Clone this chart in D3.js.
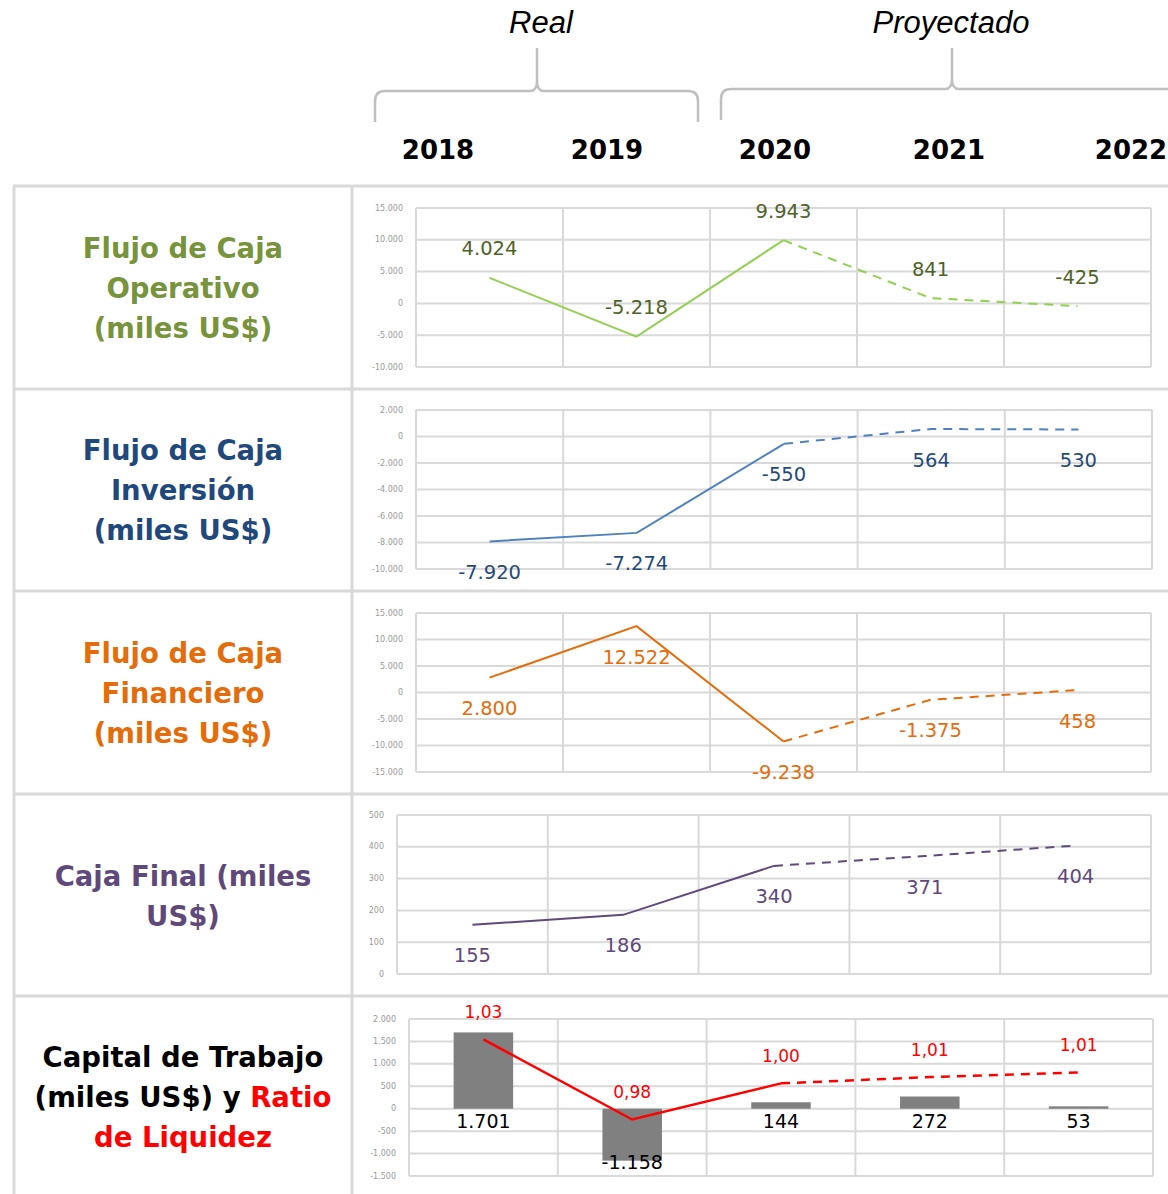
<!DOCTYPE html>
<html>
<head>
<meta charset="utf-8">
<script src="https://cdn.jsdelivr.net/npm/d3@7"></script>
<style>
  html, body { margin: 0; padding: 0; background: #fff; }
  svg { display: block; }
</style>
</head>
<body>
<div id="chart"></div>
<script>
// datos (miles US$)
const years = ["2018", "2019", "2020", "2021", "2022"];
const lastRealIndex = 2; // la línea es continua hasta 2020 y punteada después
const flujoOperativo = [4024, -5218, 9943, 841, -425];
const flujoInversion = [-7920, -7274, -550, 564, 530];
const flujoFinanciero = [2800, 12522, -9238, -1375, 458];
const cajaFinal = [155, 186, 340, 371, 404];
const capitalTrabajo = [1701, -1158, 144, 272, 53];
const ratioLiquidez = [1.032, 0.981, 1.004, 1.008, 1.011];

const ticksOperativo = [15000, 10000, 5000, 0, -5000, -10000];
const ticksInversion = [2000, 0, -2000, -4000, -6000, -8000, -10000];
const ticksFinanciero = [15000, 10000, 5000, 0, -5000, -10000, -15000];
const ticksCaja = [500, 400, 300, 200, 100, 0];
const ticksCapital = [2000, 1500, 1000, 500, 0, -500, -1000, -1500];
const ratioDomain = [0.945, 1.045];

const locale = d3.formatLocale({
  decimal: ",", thousands: ".", grouping: [3], currency: ["$", ""], minus: "-"
});
const fmtNum = locale.format(",d");
const fmtRatio = locale.format(".2f");

const W = 1168, H = 1194;
const GRID = "#d9d9d9";

const svg = d3.select("#chart").append("svg")
  .attr("width", W)
  .attr("height", H)
  .attr("viewBox", `0 0 ${W} ${H}`);

// ---- encabezado: Real / Proyectado con llaves
const head = svg.append("g");
head.append("text").attr("x", 541).attr("y", 22)
  .attr("text-anchor", "middle").attr("dominant-baseline", "central")
  .attr("font-family", "Liberation Sans, Arial, sans-serif").attr("font-style", "italic")
  .attr("font-size", 31).attr("fill", "#000").text("Real");
head.append("text").attr("x", 951).attr("y", 22)
  .attr("text-anchor", "middle").attr("dominant-baseline", "central")
  .attr("font-family", "Liberation Sans, Arial, sans-serif").attr("font-style", "italic")
  .attr("font-size", 31).attr("fill", "#000").text("Proyectado");

function brace(x0, x1, xm, yTop, yBar, yEnd) {
  const p = d3.path();
  p.moveTo(x0, yEnd);
  p.lineTo(x0, yBar + 10);
  p.quadraticCurveTo(x0, yBar, x0 + 10, yBar);
  p.lineTo(xm - 7, yBar);
  p.quadraticCurveTo(xm, yBar, xm, yBar - 10);
  p.lineTo(xm, yTop);
  p.moveTo(xm, yBar - 10);
  p.quadraticCurveTo(xm, yBar, xm + 7, yBar);
  if (x1 > W) {
    p.lineTo(x1, yBar);
  } else {
    p.lineTo(x1 - 10, yBar);
    p.quadraticCurveTo(x1, yBar, x1, yBar + 10);
    p.lineTo(x1, yEnd);
  }
  return p.toString();
}
head.append("path").attr("d", brace(375, 698, 537, 48, 91, 122))
  .attr("fill", "none").attr("stroke", "#bfbfbf").attr("stroke-width", 2.5);
head.append("path").attr("d", brace(721, 1200, 952, 48, 89, 120))
  .attr("fill", "none").attr("stroke", "#bfbfbf").attr("stroke-width", 2.5);

const yearX = [438, 607, 775, 949, 1131];
head.selectAll("text.year").data(years).join("text")
  .attr("class", "year")
  .attr("x", (d, i) => yearX[i]).attr("y", 150)
  .attr("text-anchor", "middle").attr("dominant-baseline", "central")
  .attr("font-family", "DejaVu Sans, sans-serif").attr("font-weight", "bold")
  .attr("font-size", 26).attr("fill", "#000").text(d => d);

// ---- tabla
const rowLines = [186, 389, 591, 794, 996];
const table = svg.append("g");
table.selectAll("line.row").data(rowLines).join("line")
  .attr("x1", 13).attr("x2", W).attr("y1", d => d).attr("y2", d => d)
  .attr("stroke", GRID).attr("stroke-width", 3);
table.append("line").attr("x1", 14).attr("x2", 14).attr("y1", 186).attr("y2", H)
  .attr("stroke", GRID).attr("stroke-width", 3);
table.append("line").attr("x1", 352).attr("x2", 352).attr("y1", 186).attr("y2", H)
  .attr("stroke", GRID).attr("stroke-width", 3);

// ---- etiquetas de fila
const rowLabels = [
  { cy: 287.5, lines: [[["Flujo de Caja", "#77933c"]], [["Operativo", "#77933c"]], [["(miles US$)", "#77933c"]]] },
  { cy: 490, lines: [[["Flujo de Caja", "#1f497d"]], [["Inversión", "#1f497d"]], [["(miles US$)", "#1f497d"]]] },
  { cy: 692.5, lines: [[["Flujo de Caja", "#e46c0a"]], [["Financiero", "#e46c0a"]], [["(miles US$)", "#e46c0a"]]] },
  { cy: 896, lines: [[["Caja Final (miles", "#5f497a"]], [["US$)", "#5f497a"]]] },
  { cy: 1097, lines: [[["Capital de Trabajo", "#000"]], [["(miles US$) y ", "#000"], ["Ratio", "#ff0000"]], [["de Liquidez", "#ff0000"]]] }
];
rowLabels.forEach(r => {
  const n = r.lines.length;
  r.lines.forEach((parts, i) => {
    const t = svg.append("text")
      .attr("x", 183).attr("y", r.cy + (i - (n - 1) / 2) * 40)
      .attr("text-anchor", "middle").attr("dominant-baseline", "central")
      .attr("font-family", "DejaVu Sans, sans-serif").attr("font-weight", "bold")
      .attr("font-size", 27.5);
    parts.forEach(p => t.append("tspan").attr("fill", p[1]).text(p[0]));
  });
});

// ---- paneles
function panel(cfg) {
  const g = svg.append("g");
  const x = d3.scaleBand().domain(years).range([cfg.x0, cfg.x1]);
  const y = d3.scaleLinear().domain(d3.extent(cfg.ticks)).range([cfg.y1, cfg.y0]);
  const cx = d => x(d) + x.bandwidth() / 2;

  g.selectAll("line.h").data(cfg.ticks).join("line")
    .attr("x1", cfg.x0).attr("x2", cfg.x1)
    .attr("y1", d => y(d)).attr("y2", d => y(d))
    .attr("stroke", GRID).attr("stroke-width", 2);
  g.selectAll("line.v").data(years.map(d => x(d)).concat([cfg.x1])).join("line")
    .attr("x1", d => d).attr("x2", d => d)
    .attr("y1", cfg.y0).attr("y2", cfg.y1)
    .attr("stroke", GRID).attr("stroke-width", 2);

  g.selectAll("text.tick").data(cfg.ticks).join("text")
    .attr("x", cfg.x0 - 13).attr("y", d => y(d))
    .attr("text-anchor", "end").attr("dominant-baseline", "central")
    .attr("font-family", "DejaVu Sans, sans-serif").attr("font-size", 8)
    .attr("fill", "#999").text(d => fmtNum(d));

  return { g, x, y, cx };
}

function seriesLine(p, values, scaleY, color, width) {
  const line = d3.line().x((d, i) => p.cx(years[i])).y(d => scaleY(d));
  const solid = values.map((v, i) => i <= lastRealIndex ? v : null);
  const lineSolid = d3.line().defined(d => d !== null)
    .x((d, i) => p.cx(years[i])).y(d => scaleY(d));
  p.g.append("path").attr("d", lineSolid(solid))
    .attr("fill", "none").attr("stroke", color).attr("stroke-width", width);
  const dashedIdx = values.map((v, i) => i).filter(i => i >= lastRealIndex);
  const lineDash = d3.line().x(i => p.cx(years[i])).y(i => scaleY(values[i]));
  p.g.append("path").attr("d", lineDash(dashedIdx))
    .attr("fill", "none").attr("stroke", color).attr("stroke-width", width)
    .attr("stroke-dasharray", "9,7");
}

function labels(p, values, scaleY, dy, color, fmt, size) {
  p.g.selectAll(null).data(values).join("text")
    .attr("x", (d, i) => p.cx(years[i])).attr("y", d => scaleY(d) + dy)
    .attr("text-anchor", "middle").attr("dominant-baseline", "central")
    .attr("font-family", "DejaVu Sans, sans-serif").attr("font-size", size)
    .attr("fill", color).text(d => fmt(d));
}

const p1 = panel({ x0: 416, x1: 1151, y0: 208, y1: 367, ticks: ticksOperativo });
seriesLine(p1, flujoOperativo, p1.y, "#92d050", 2);
labels(p1, flujoOperativo, p1.y, -29, "#4f6228", fmtNum, 19.5);

const p2 = panel({ x0: 416, x1: 1152, y0: 410, y1: 569, ticks: ticksInversion });
seriesLine(p2, flujoInversion, p2.y, "#4f81bd", 2);
labels(p2, flujoInversion, p2.y, 31, "#1f497d", fmtNum, 19.5);

const p3 = panel({ x0: 416, x1: 1151, y0: 613, y1: 772, ticks: ticksFinanciero });
seriesLine(p3, flujoFinanciero, p3.y, "#e46c0a", 2);
labels(p3, flujoFinanciero, p3.y, 31, "#e46c0a", fmtNum, 19.5);

const p4 = panel({ x0: 397, x1: 1151, y0: 815, y1: 974, ticks: ticksCaja });
seriesLine(p4, cajaFinal, p4.y, "#604a7b", 2);
labels(p4, cajaFinal, p4.y, 31, "#5f497a", fmtNum, 19.5);

const p5 = panel({ x0: 409, x1: 1153, y0: 1019, y1: 1176, ticks: ticksCapital });
const barW = p5.x.bandwidth() * 0.4;
p5.g.selectAll("rect.bar").data(capitalTrabajo).join("rect")
  .attr("x", (d, i) => p5.cx(years[i]) - barW / 2)
  .attr("y", d => Math.min(p5.y(d), p5.y(0)))
  .attr("width", barW)
  .attr("height", d => Math.abs(p5.y(d) - p5.y(0)))
  .attr("fill", "#808080");
p5.g.selectAll("text.bar").data(capitalTrabajo).join("text")
  .attr("x", (d, i) => p5.cx(years[i]))
  .attr("y", d => d >= 0 ? p5.y(0) + 12 : p5.y(d) + 1)
  .attr("text-anchor", "middle").attr("dominant-baseline", "central")
  .attr("font-family", "DejaVu Sans, sans-serif").attr("font-size", 19)
  .attr("fill", "#000").text(d => fmtNum(d));

const yRatio = d3.scaleLinear().domain(ratioDomain).range([1176, 1019]);
seriesLine(p5, ratioLiquidez, yRatio, "#ff0000", 2.5);
labels(p5, ratioLiquidez, yRatio, -27, "#ff0000", fmtRatio, 17);
</script>
</body>
</html>
